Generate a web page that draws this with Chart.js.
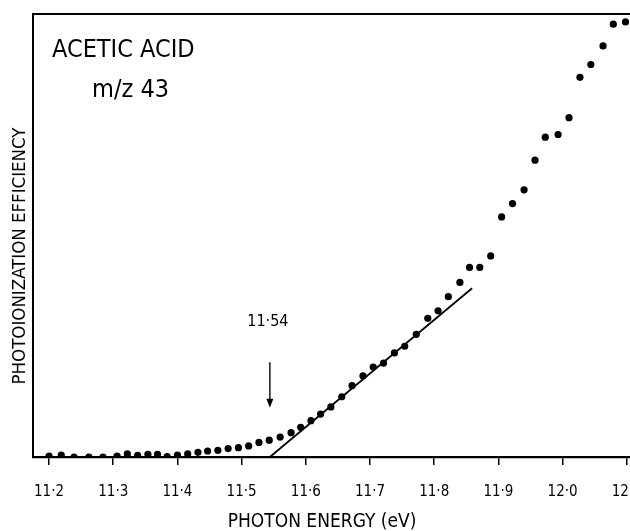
<!DOCTYPE html>
<html>
<head>
<meta charset="utf-8">
<script src="https://cdn.jsdelivr.net/npm/chart.js@4.4.0/dist/chart.umd.min.js"></script>
<style>
  html, body { margin: 0; padding: 0; background: #fff; overflow: hidden; }
  #wrap { width: 630px; height: 531px; position: relative; }
</style>
</head>
<body>
<div id="wrap"><canvas id="myChart"></canvas></div>
<script>
// photon energy (eV) of each measured point
const energy = [
  11.200, 11.219, 11.239, 11.262, 11.284, 11.306, 11.322, 11.338, 11.354, 11.369,
  11.384, 11.400, 11.416, 11.432, 11.447, 11.463, 11.479, 11.495, 11.511, 11.527,
  11.543, 11.560, 11.577, 11.592, 11.608, 11.623, 11.639, 11.656, 11.672, 11.689,
  11.705, 11.721, 11.738, 11.754, 11.772, 11.790, 11.806, 11.822, 11.840, 11.855,
  11.871, 11.888, 11.905, 11.922, 11.940, 11.957, 11.973, 11.993, 12.010, 12.027,
  12.044, 12.063, 12.079, 12.098
];
// photoionization efficiency (arbitrary units, 0-100 = full height of the frame)
const efficiency = [
  0.2, 0.45, 0.0, 0.0, 0.0, 0.2, 0.7, 0.4, 0.6, 0.6,
  0.1, 0.45, 0.7, 1.05, 1.35, 1.5, 1.9, 2.1, 2.5, 3.3,
  3.8, 4.5, 5.5, 6.7, 8.2, 9.7, 11.3, 13.6, 16.1, 18.3,
  20.3, 21.2, 23.5, 25.0, 27.7, 31.3, 33.0, 36.2, 39.4, 42.8,
  42.8, 45.4, 54.2, 57.2, 60.3, 67.0, 72.2, 72.8, 76.6, 85.7,
  88.6, 92.8, 97.7, 98.2
];
// linear threshold fit
const fitX = [11.544, 11.859];
const fitY = [0, 38.1];
// onset marker
const onset = 11.544;
const onsetLabel = '11·54';
const arrowY = [21.4, 11.1];
const labelY = 29.5;

const tickValues = [11.2, 11.3, 11.4, 11.5, 11.6, 11.7, 11.8, 11.9, 12.0, 12.1];
const tickLabels = ['11·2', '11·3', '11·4', '11·5', '11·6', '11·7', '11·8', '11·9', '12·0', '12·1'];

const FONT = "'Liberation Sans Narrow', 'DejaVu Sans Condensed', sans-serif";

const canvas = document.getElementById('myChart');
const ctx = canvas.getContext('2d');

// text, arrow and top frame line
const extras = {
  id: 'extras',
  afterDatasetsDraw(chart) {
    const c = chart.ctx;
    const area = chart.chartArea;
    const xs = chart.scales.x, ys = chart.scales.y;
    c.save();
    // top frame line
    c.strokeStyle = '#000';
    c.lineWidth = 2;
    c.beginPath();
    c.moveTo(area.left - 1, area.top);
    c.lineTo(area.right, area.top);
    c.stroke();

    c.fillStyle = '#000';
    c.textBaseline = 'alphabetic';
    c.textAlign = 'left';
    c.font = '25px ' + FONT;
    c.fillText('ACETIC ACID', 52, 57);
    c.fillText('m/z 43', 92, 97);

    // onset arrow
    const ax = xs.getPixelForValue(onset);
    const y1 = ys.getPixelForValue(arrowY[0]);
    const y2 = ys.getPixelForValue(arrowY[1]);
    c.lineWidth = 1.4;
    c.beginPath();
    c.moveTo(ax, y1);
    c.lineTo(ax, y2 - 6);
    c.stroke();
    c.beginPath();
    c.moveTo(ax, y2);
    c.lineTo(ax - 3.5, y2 - 9);
    c.lineTo(ax + 3.5, y2 - 9);
    c.closePath();
    c.fill();

    c.font = '16px ' + FONT;
    c.textAlign = 'center';
    c.fillText(onsetLabel, ax - 2, ys.getPixelForValue(labelY));

    // axis titles
    c.font = '19px ' + FONT;
    c.fillText('PHOTON ENERGY (eV)', 322, 527);
    c.font = '18.5px ' + FONT;
    c.translate(25, 256);
    c.rotate(-Math.PI / 2);
    c.fillText('PHOTOIONIZATION EFFICIENCY', 0, 0);
    c.restore();
  }
};

const points = energy.map((e, i) => ({ x: e, y: efficiency[i] }));
const fitLine = fitX.map((e, i) => ({ x: e, y: fitY[i] }));

const config = {
  type: 'scatter',
  data: {
    datasets: [
      {
        label: 'm/z 43',
        data: points,
        pointRadius: 3.6,
        pointBackgroundColor: '#000',
        pointBorderWidth: 0,
        showLine: false
      },
      {
        label: 'threshold fit',
        type: 'line',
        data: fitLine,
        borderColor: '#000',
        borderWidth: 1.8,
        pointRadius: 0,
        fill: false
      }
    ]
  },
  options: {
    responsive: true,
    maintainAspectRatio: false,
    animation: false,
    layout: { autoPadding: false, padding: { top: 14, right: 0, left: 0, bottom: 0 } },
    plugins: {
      legend: { display: false },
      tooltip: { enabled: false }
    },
    scales: {
      x: {
        type: 'linear',
        min: 11.175,
        max: 12.105,
        afterBuildTicks: function (scale) {
          scale.ticks = tickValues.map(v => ({ value: v }));
        },
        afterFit: function (scale) {
          scale.height = 74;
          scale.paddingLeft = 0;
          scale.paddingRight = 0;
        },
        grid: {
          drawOnChartArea: false,
          drawTicks: true,
          tickLength: 8,
          color: '#000',
          lineWidth: 1.5
        },
        border: { display: true, color: '#000', width: 2.2 },
        ticks: {
          color: '#000',
          padding: 18,
          maxRotation: 0,
          autoSkip: false,
          font: { family: FONT, size: 15 },
          callback: function (value) {
            const i = tickValues.findIndex(t => Math.abs(t - value) < 1e-6);
            return i >= 0 ? tickLabels[i] : '';
          }
        }
      },
      y: {
        type: 'linear',
        min: 0,
        max: 100,
        afterFit: function (scale) {
          scale.width = 33;
        },
        grid: { display: false },
        border: { display: true, color: '#000', width: 2 },
        ticks: { display: false }
      }
    }
  },
  plugins: [extras]
};

new Chart(ctx, config);
</script>
</body>
</html>
